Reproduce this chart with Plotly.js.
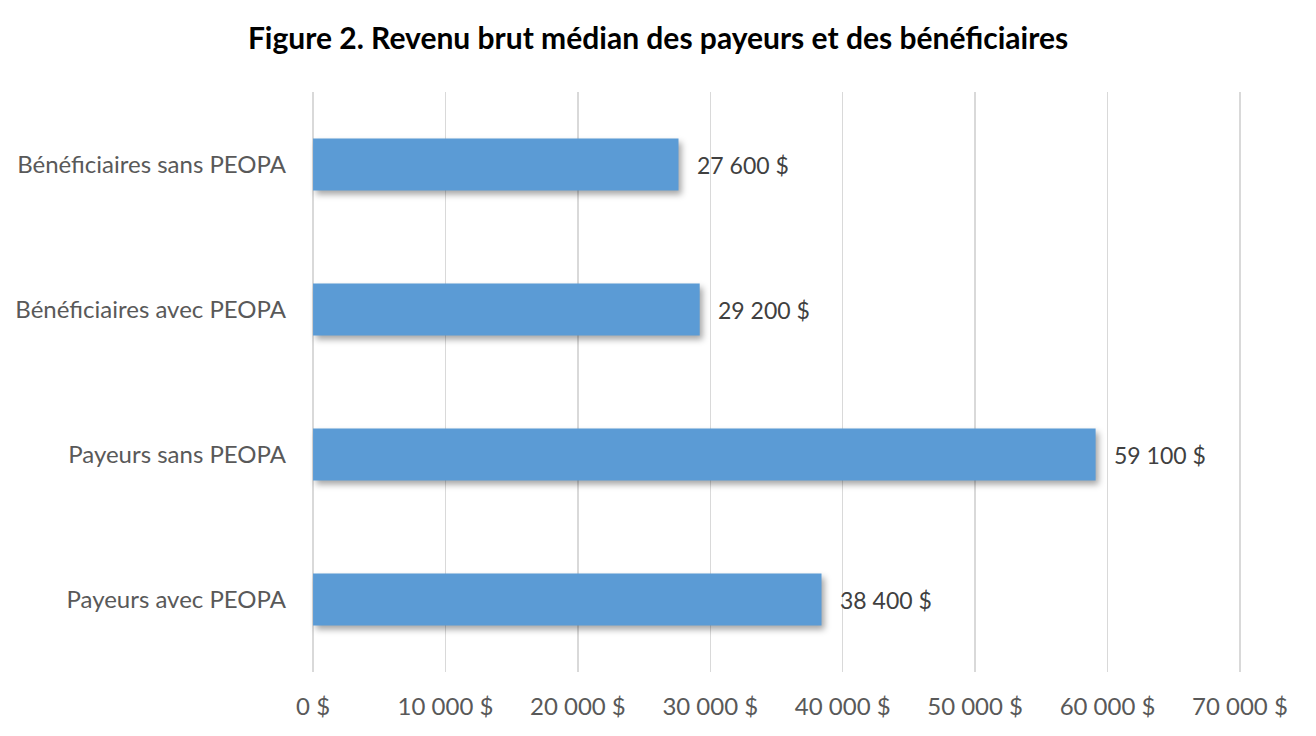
<!DOCTYPE html>
<html>
<head>
<meta charset="utf-8">
<script src="https://cdn.plot.ly/plotly-3.0.1.min.js"></script>
<style>
  body { margin: 0; background: #fff; }
  #chart { width: 1316px; height: 736px; }
  /* soft shadow under the bars, like the office chart */
  .trace.bars .point path { filter: drop-shadow(3px 4px 3px rgba(0,0,0,0.35)); }
</style>
</head>
<body>
<div id="chart"></div>
<script>
// categories bottom to top
var categories = ["Payeurs avec PEOPA", "Payeurs sans PEOPA", "Bénéficiaires avec PEOPA", "Bénéficiaires sans PEOPA"];
var values = [38400, 59100, 29200, 27600];
var tickValues = [0, 10000, 20000, 30000, 40000, 50000, 60000, 70000];
var tickLabels = ["0 $", "10 000 $", "20 000 $", "30 000 $", "40 000 $", "50 000 $", "60 000 $", "70 000 $"];

function fmt(v) {
  return String(v).replace(/\B(?=(\d{3})+(?!\d))/g, " ") + " $";
}

var FONT = "Lato, 'Open Sans', sans-serif";

var labels = [];
for (var i = 0; i < values.length; i += 1) {
  labels.push({
    x: values[i], y: categories[i], xref: "x", yref: "y",
    text: fmt(values[i]), showarrow: false,
    xanchor: "left", xshift: 16,
    font: {family: FONT, size: 23, color: "#404040"}
  });
}

var trace = {
  type: "bar",
  orientation: "h",
  x: values,
  y: categories,
  marker: {color: "#5B9BD5"},
  hoverinfo: "none"
};

// range padded a little so the 0 and 70 000 gridlines are not clipped
var layout = {
  width: 1316,
  height: 736,
  margin: {l: 310, r: 73, t: 92, b: 64},
  paper_bgcolor: "#fff",
  plot_bgcolor: "#fff",
  showlegend: false,
  bargap: 0.64,
  title: {
    text: "<b>Figure 2. Revenu brut médian des payeurs et des bénéficiaires</b>",
    font: {family: FONT, size: 30, color: "#000"},
    x: 0.5, xanchor: "center", y: 0.948, yanchor: "middle"
  },
  xaxis: {
    range: [-230, 70230],
    tickvals: tickValues,
    ticktext: tickLabels,
    showgrid: true,
    gridcolor: "#d9d9d9",
    gridwidth: 1.3,
    zeroline: false,
    showline: false,
    ticks: "",
    ticklabelstandoff: 18,
    tickfont: {family: FONT, size: 24, color: "#595959"}
  },
  yaxis: {
    categoryorder: "array",
    categoryarray: categories,
    showgrid: false,
    zeroline: false,
    showline: false,
    ticks: "",
    ticklabelstandoff: 23,
    tickfont: {family: FONT, size: 24, color: "#595959"}
  },
  annotations: labels
};

Plotly.newPlot("chart", [trace], layout, {staticPlot: true});
</script>
</body>
</html>
